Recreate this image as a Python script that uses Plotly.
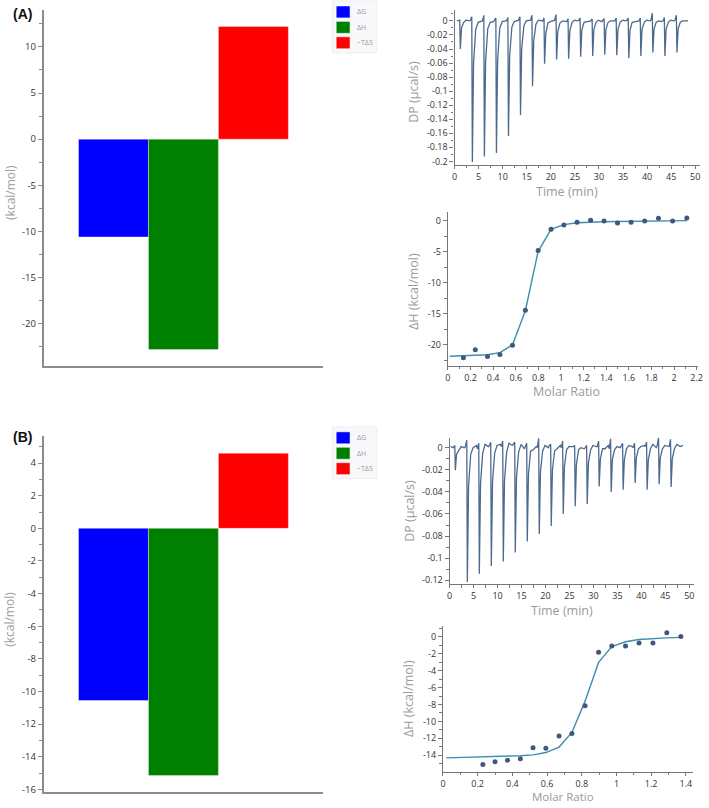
import plotly.graph_objects as go

# ---------------- data ----------------
bar_labels = ["ΔG", "ΔH", "−TΔS"]
bar_colors = ["#0000ff", "#008000", "#ff0000"]
bar_A = [-10.6, -22.8, 12.2]
bar_B = [-10.55, -15.15, 4.6]

# injection times (min) of the thermograms
inj_time = [1.2, 3.7, 6.2, 8.7, 11.2, 13.7, 16.2, 18.7, 21.2, 23.7, 26.2,
            28.7, 31.2, 33.7, 36.2, 38.7, 41.2, 43.7, 46.2]

# panel A thermogram (µcal/s)
dp_depth_A = [-0.040, -0.201, -0.193, -0.188, -0.164, -0.134, -0.093, -0.061, -0.055,
              -0.054, -0.051, -0.050, -0.048, -0.049, -0.053, -0.050, -0.045, -0.050, -0.045]
dp_blip_A = [0.001, 0.006, 0.008, 0.004, 0.005, 0.006, 0.008, 0.004, 0.009, 0.003,
             0.004, 0.003, 0.003, 0.004, 0.004, 0.004, 0.011, 0.005, 0.008]
dp_rec1_A = [-0.010, -0.060, -0.058, -0.056, -0.050, -0.040, -0.028, -0.018, -0.015,
             -0.014, -0.013, -0.012, -0.012, -0.012, -0.013, -0.012, -0.011, -0.012, -0.011]
dp_rec2_A = [-0.002, -0.012, -0.011, -0.010, -0.009, -0.007, -0.005, -0.003, -0.003,
             -0.002, -0.002, -0.002, -0.002, -0.002, -0.002, -0.002, -0.002, -0.002, -0.002]
dp_mid_A = [0.001, -0.002, -0.002, -0.001, -0.001, 0.0, 0.001, -0.001, 0.0, 0.001,
            -0.001, 0.001, 0.0, 0.001, -0.001, 0.001, 0.0, 0.001, 0.0]
dp_mid2_A = [0.0, 0.0, -0.001, 0.0, 0.0, 0.0, 0.0, 0.001, 0.0, 0.0, 0.0, -0.001, 0.0,
             0.0, 0.0, 0.0, -0.001, 0.0, 0.0]
dp_pre_A = [0.0, 0.001, 0.0, 0.001, 0.0, 0.001, 0.001, 0.0, 0.001, -0.001, 0.001, 0.0,
            0.001, 0.0, 0.001, 0.0, 0.001, 0.0, 0.001]
dp_start_A = [0.5, 0.0]
dp_end_A = [48.5, 0.0]

# panel B thermogram (µcal/s)
dp_depth_B = [-0.0204, -0.1215, -0.114, -0.107, -0.103, -0.0948, -0.0848, -0.078, -0.0708,
              -0.060, -0.053, -0.051, -0.035, -0.040, -0.038, -0.032, -0.038, -0.033, -0.0355]
dp_blip_B = [0.002, 0.0067, 0.004, 0.005, 0.006, 0.005, 0.004, 0.0085, 0.003, 0.006,
             0.002, 0.002, 0.006, 0.008, 0.004, 0.004, 0.005, 0.009, 0.0075]
dp_rec1_B = [-0.006, -0.035, -0.033, -0.031, -0.030, -0.027, -0.024, -0.022, -0.020,
             -0.017, -0.015, -0.014, -0.010, -0.011, -0.011, -0.009, -0.011, -0.009, -0.010]
dp_rec2_B = [-0.002, -0.006, -0.005, -0.005, -0.004, -0.004, -0.003, -0.003, -0.003,
             -0.002, -0.002, -0.002, -0.001, -0.002, -0.001, -0.001, -0.001, -0.001, -0.001]
dp_mid_B = [0.001, 0.0, 0.003, 0.002, 0.004, 0.003, -0.002, 0.002, -0.001, 0.001,
            0.0, 0.002, -0.001, 0.001, 0.002, 0.001, 0.003, 0.002, 0.003]
dp_mid2_B = [0.0, 0.002, 0.001, 0.003, 0.002, -0.001, 0.001, 0.0, 0.002, 0.001,
             -0.001, 0.001, 0.002, 0.0, 0.001, 0.002, 0.0, 0.001, 0.001]
dp_pre_B = [0.0, 0.001, -0.001, 0.002, 0.001, 0.003, 0.001, 0.0, 0.002, 0.0, 0.001,
            0.0, 0.001, -0.001, 0.002, 0.0, 0.001, 0.002, 0.001]
dp_start_B = [0.2, 0.001]
dp_end_B = [48.7, 0.002]

# integrated isotherms
mr_A = [0.137, 0.242, 0.350, 0.460, 0.571, 0.685, 0.798, 0.912, 1.026, 1.142, 1.262,
        1.381, 1.500, 1.620, 1.740, 1.862, 1.987, 2.113]
dh_A = [-22.1, -20.8, -21.9, -21.55, -20.05, -14.4, -4.76, -1.34, -0.64, -0.21, 0.1,
        0.0, -0.32, -0.21, 0.0, 0.43, 0.0, 0.48]
fit_x_A = [0.015, 0.137, 0.242, 0.350, 0.460, 0.571, 0.685, 0.798, 0.912, 1.026, 1.142,
           1.262, 1.381, 1.500, 1.620, 1.740, 1.862, 1.987, 2.113]
fit_A = [-21.85, -21.8, -21.72, -21.6, -21.25, -20.0, -14.5, -4.9, -1.35, -0.6, -0.3,
         -0.18, -0.12, -0.08, -0.06, -0.04, -0.02, 0.0, 0.05]

mr_B = [0.230, 0.300, 0.372, 0.446, 0.519, 0.593, 0.669, 0.743, 0.819, 0.897, 0.973,
        1.052, 1.130, 1.210, 1.290, 1.371]
dh_B = [-15.08, -14.77, -14.58, -14.42, -13.1, -13.18, -11.71, -11.44, -8.14, -1.82,
        -1.09, -1.09, -0.74, -0.74, 0.5, 0.04]
fit_x_B = [0.019, 0.230, 0.300, 0.372, 0.446, 0.519, 0.593, 0.669, 0.743, 0.819, 0.897,
           0.973, 1.052, 1.130, 1.210, 1.290, 1.371]
fit_B = [-14.31, -14.22, -14.18, -14.13, -14.05, -13.96, -13.68, -13.03, -11.3, -7.6,
         -3.02, -1.16, -0.58, -0.31, -0.19, -0.12, -0.06]

# tick labels
bar_ticks_A = [10, 5, 0, -5, -10, -15, -20]
bar_ticktext_A = ["10", "5", "0", "-5", "-10", "-15", "-20"]
bar_ticks_B = [4, 2, 0, -2, -4, -6, -8, -10, -12, -14, -16]
bar_ticktext_B = ["4", "2", "0", "-2", "-4", "-6", "-8", "-10", "-12", "-14", "-16"]
time_ticks = [0, 5, 10, 15, 20, 25, 30, 35, 40, 45, 50]
time_ticktext = ["0", "5", "10", "15", "20", "25", "30", "35", "40", "45", "50"]
dp_ticks_A = [0, -0.02, -0.04, -0.06, -0.08, -0.1, -0.12, -0.14, -0.16, -0.18, -0.2]
dp_ticktext_A = ["0", "-0.02", "-0.04", "-0.06", "-0.08", "-0.1", "-0.12", "-0.14",
                 "-0.16", "-0.18", "-0.2"]
dp_ticks_B = [0, -0.02, -0.04, -0.06, -0.08, -0.1, -0.12]
dp_ticktext_B = ["0", "-0.02", "-0.04", "-0.06", "-0.08", "-0.1", "-0.12"]
mr_ticks_A = [0, 0.2, 0.4, 0.6, 0.8, 1.0, 1.2, 1.4, 1.6, 1.8, 2.0, 2.2]
mr_ticktext_A = ["0", "0.2", "0.4", "0.6", "0.8", "1", "1.2", "1.4", "1.6", "1.8", "2", "2.2"]
mr_ticks_B = [0, 0.2, 0.4, 0.6, 0.8, 1.0, 1.2, 1.4]
mr_ticktext_B = ["0", "0.2", "0.4", "0.6", "0.8", "1", "1.2", "1.4"]
dh_ticks_A = [0, -5, -10, -15, -20]
dh_ticktext_A = ["0", "-5", "-10", "-15", "-20"]
dh_ticks_B = [0, -2, -4, -6, -8, -10, -12, -14]
dh_ticktext_B = ["0", "-2", "-4", "-6", "-8", "-10", "-12", "-14"]


def thermogram(start, end, depth, blip, rec1, rec2, mid, mid2, pre):
    xs, ys = [start[0]], [start[1]]
    for i, t in enumerate(inj_time):
        xs += [t - 0.4, t - 0.12, t, t + 0.25, t + 0.7, t + 1.2, t + 1.9]
        ys += [pre[i], blip[i], depth[i], rec1[i], rec2[i], mid[i], mid2[i]]
    xs.append(end[0])
    ys.append(end[1])
    return xs, ys


FONT = "Open Sans"
TICKC = "#333333"
TITLEC = "#9a9a9a"
DPC = "#4b6a8e"
FITC = "#3f8db0"
PTC = "#3d5a7e"
W, H = 709, 808

fig = go.Figure()

# bar panels
for vals, xa, ya in [(bar_A, "x", "y"), (bar_B, "x4", "y4")]:
    for lab, v, c in zip(bar_labels, vals, bar_colors):
        fig.add_trace(go.Bar(x=[lab], y=[v], width=[1], name=lab,
                             marker=dict(color=c, line=dict(color="rgba(255,255,255,0.35)", width=1)),
                             xaxis=xa, yaxis=ya, showlegend=False))

# thermograms
xA, yA = thermogram(dp_start_A, dp_end_A, dp_depth_A, dp_blip_A, dp_rec1_A, dp_rec2_A,
                    dp_mid_A, dp_mid2_A, dp_pre_A)
xB, yB = thermogram(dp_start_B, dp_end_B, dp_depth_B, dp_blip_B, dp_rec1_B, dp_rec2_B,
                    dp_mid_B, dp_mid2_B, dp_pre_B)
fig.add_trace(go.Scatter(x=xA, y=yA, mode="lines", line=dict(color=DPC, width=1.3),
                         xaxis="x2", yaxis="y2", showlegend=False))
fig.add_trace(go.Scatter(x=xB, y=yB, mode="lines", line=dict(color=DPC, width=1.3),
                         xaxis="x5", yaxis="y5", showlegend=False))

# isotherms
fig.add_trace(go.Scatter(x=fit_x_A, y=fit_A, mode="lines", line=dict(color=FITC, width=1.4),
                         xaxis="x3", yaxis="y3", showlegend=False))
fig.add_trace(go.Scatter(x=mr_A, y=dh_A, mode="markers", marker=dict(color=PTC, size=5),
                         xaxis="x3", yaxis="y3", showlegend=False))
fig.add_trace(go.Scatter(x=fit_x_B, y=fit_B, mode="lines", line=dict(color=FITC, width=1.4),
                         xaxis="x6", yaxis="y6", showlegend=False))
fig.add_trace(go.Scatter(x=mr_B, y=dh_B, mode="markers", marker=dict(color=PTC, size=5),
                         xaxis="x6", yaxis="y6", showlegend=False))


def px_x(a, b):
    return [a / W, b / W]


def px_y(top, bottom):
    return [1 - bottom / H, 1 - top / H]


def num_axis(dom, rng, tv, tt, minor_dt, anchor, lc="#777777", lw=1.2, fs=9, tl=4):
    return dict(domain=dom, range=rng, tickmode="array", tickvals=tv, ticktext=tt,
                ticks="outside", ticklen=tl, tickcolor=lc, tickwidth=1,
                showline=True, linecolor=lc, linewidth=lw, showgrid=False, zeroline=False,
                tickfont=dict(family=FONT, size=fs, color=TICKC),
                minor=dict(tickmode="linear", tick0=0, dtick=minor_dt, ticks="outside",
                           ticklen=2.5, tickcolor=lc, showgrid=False),
                anchor=anchor, fixedrange=True)


def bar_xaxis(dom, anchor):
    return dict(domain=dom, type="category", categoryorder="array", categoryarray=bar_labels,
                range=[-1, 3], showline=True, linecolor="#8c8c8c", linewidth=1.5,
                showticklabels=False, ticks="", showgrid=False, zeroline=False, anchor=anchor,
                fixedrange=True)


fig.update_layout(
    width=W, height=H, margin=dict(l=0, r=0, t=0, b=0),
    paper_bgcolor="white", plot_bgcolor="white", barmode="overlay",
    font=dict(family=FONT), showlegend=False,
    xaxis=bar_xaxis(px_x(41, 324), "y"),
    yaxis=num_axis(px_y(10, 368), [-24.6, 14.0], bar_ticks_A, bar_ticktext_A, 2.5, "x",
                   lc="#8c8c8c", lw=1.5, fs=9.5),
    xaxis2=num_axis(px_x(456.7, 705), [0, 51], time_ticks, time_ticktext, 2.5, "y2", tl=3),
    yaxis2=num_axis(px_y(10, 165.7), [-0.205, 0.0156], dp_ticks_A, dp_ticktext_A, 0.01, "x2"),
    xaxis3=num_axis(px_x(450, 703.3), [0, 2.215], mr_ticks_A, mr_ticktext_A, 0.1, "y3", tl=3),
    yaxis3=num_axis(px_y(212.7, 367.7), [-23.4, 1.5], dh_ticks_A, dh_ticktext_A, 2.5, "x3"),
    xaxis4=bar_xaxis(px_x(41, 324), "y4"),
    yaxis4=num_axis(px_y(438, 796), [-16.16, 5.67], bar_ticks_B, bar_ticktext_B, 1, "x4",
                    lc="#8c8c8c", lw=1.5, fs=9.5),
    xaxis5=num_axis(px_x(451.7, 699), [0, 51], time_ticks, time_ticktext, 2.5, "y5", tl=3),
    yaxis5=num_axis(px_y(440, 587.3), [-0.1237, 0.0089], dp_ticks_B, dp_ticktext_B, 0.01, "x5"),
    xaxis6=num_axis(px_x(445, 697.7), [0, 1.44], mr_ticks_B, mr_ticktext_B, 0.1, "y6", tl=3),
    yaxis6=num_axis(px_y(629.5, 775.5), [-15.94, 1.24], dh_ticks_B, dh_ticktext_B, 1, "x6"),
)

# legend boxes (one per bar panel)
for top in (1, 429):
    fig.add_shape(type="rect", xref="paper", yref="paper",
                  x0=333 / W, x1=378 / W, y0=1 - (top + 52) / H, y1=1 - top / H,
                  fillcolor="#f7f8fa", line=dict(color="#eceef1", width=1), layer="below")
    for k, (lab, c) in enumerate(zip(bar_labels, bar_colors)):
        y0 = top + 5 + 15.5 * k
        fig.add_shape(type="rect", xref="paper", yref="paper",
                      x0=337 / W, x1=351 / W, y0=1 - (y0 + 12) / H, y1=1 - y0 / H,
                      fillcolor=c, line=dict(color="rgba(255,255,255,0.5)", width=1))
        fig.add_annotation(text=lab, x=356 / W, y=1 - (y0 + 6) / H, xref="paper", yref="paper",
                           showarrow=False, xanchor="left", yanchor="middle",
                           font=dict(family=FONT, size=7, color="#9a9a9a"))


def ann(text, x, y, size, color, angle=0, bold=False, family=FONT, anchor="center"):
    fig.add_annotation(text=("<b>%s</b>" % text) if bold else text, x=x / W, y=1 - y / H,
                       xref="paper", yref="paper", showarrow=False, textangle=angle,
                       xanchor=anchor, yanchor="middle",
                       font=dict(family=family, size=size, color=color))


ann("(A)", 8, 14, 14, "#111111", bold=True, family="Liberation Sans", anchor="left")
ann("(B)", 8, 439, 14, "#111111", bold=True, family="Liberation Sans", anchor="left")
ann("(kcal/mol)", 7, 193, 12, "#a0a0a0", angle=-90)
ann("(kcal/mol)", 7, 622, 12, "#a0a0a0", angle=-90)
ann("DP (µcal/s)", 415, 92, 12.5, TITLEC, angle=-90)
ann("Time (min)", 570, 192, 12.5, TITLEC)
ann("ΔH (kcal/mol)", 415, 293, 12.5, TITLEC, angle=-90)
ann("Molar Ratio", 570, 393, 12.5, TITLEC)
ann("DP (µcal/s)", 411, 513, 12.5, TITLEC, angle=-90)
ann("Time (min)", 565, 614, 12.5, TITLEC)
ann("ΔH (kcal/mol)", 410, 702, 12.5, TITLEC, angle=-90)
ann("Molar Ratio", 566, 800, 11.5, TITLEC)

fig.write_html("out.html", config={"displayModeBar": False},
               post_script="document.body.style.margin='0';")
